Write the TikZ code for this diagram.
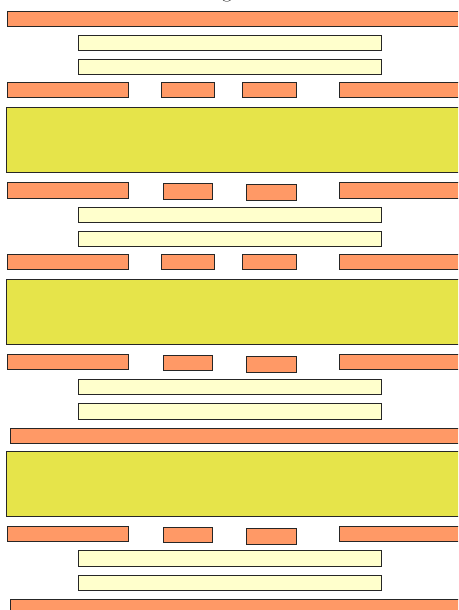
\documentclass[tikz,border=0pt]{standalone}
\begin{document}
\begin{tikzpicture}[x=1pt,y=-1pt,
  cu/.style={draw=black!85,line width=0.8pt,fill={rgb,255:red,255;green,153;blue,102}},
  pp/.style={draw=black!85,line width=0.8pt,fill={rgb,255:red,255;green,255;blue,204}},
  core/.style={draw=black!85,line width=0.8pt,fill={rgb,255:red,230;green,228;blue,74}}]
\useasboundingbox (0,0) rectangle (458,610);
\clip (0,0) rectangle (458,610);
\node[anchor=base,inner sep=0pt,font=\fontsize{22}{24}\selectfont] (title) at (227,-2.5) {g};
% layer 1
\draw[cu] (7,11) rectangle (470,26);
\draw[pp] (78,35) rectangle (381,50);
\draw[pp] (78,59) rectangle (381,74);
\draw[cu] (7,82) rectangle (128,97);
\draw[cu] (161,82) rectangle (214,97);
\draw[cu] (242,82) rectangle (296,97);
\draw[cu] (339,82) rectangle (470,97);
\draw[core] (6,107) rectangle (470,172);
\draw[cu] (7,182) rectangle (128,198);
\draw[cu] (163,183) rectangle (212,199);
\draw[cu] (246,184) rectangle (296,200);
\draw[cu] (339,182) rectangle (470,198);
\draw[pp] (78,207) rectangle (381,222);
\draw[pp] (78,231) rectangle (381,246);
\draw[cu] (7,254) rectangle (128,269);
\draw[cu] (161,254) rectangle (214,269);
\draw[cu] (242,254) rectangle (296,269);
\draw[cu] (339,254) rectangle (470,269);
\draw[core] (6,279) rectangle (470,344);
\draw[cu] (7,354) rectangle (128,369);
\draw[cu] (163,355) rectangle (212,370);
\draw[cu] (246,356) rectangle (296,372);
\draw[cu] (339,354) rectangle (470,369);
\draw[pp] (78,379) rectangle (381,394);
\draw[pp] (78,403) rectangle (381,419);
\draw[cu] (10,428) rectangle (470,443);
\draw[core] (6,451) rectangle (470,516);
\draw[cu] (7,526) rectangle (128,541);
\draw[cu] (163,527) rectangle (212,542);
\draw[cu] (246,528) rectangle (296,544);
\draw[cu] (339,526) rectangle (470,541);
\draw[pp] (78,550) rectangle (381,566);
\draw[pp] (78,575) rectangle (381,590);
\draw[cu] (10,599) rectangle (470,620);
\end{tikzpicture}
\end{document}
